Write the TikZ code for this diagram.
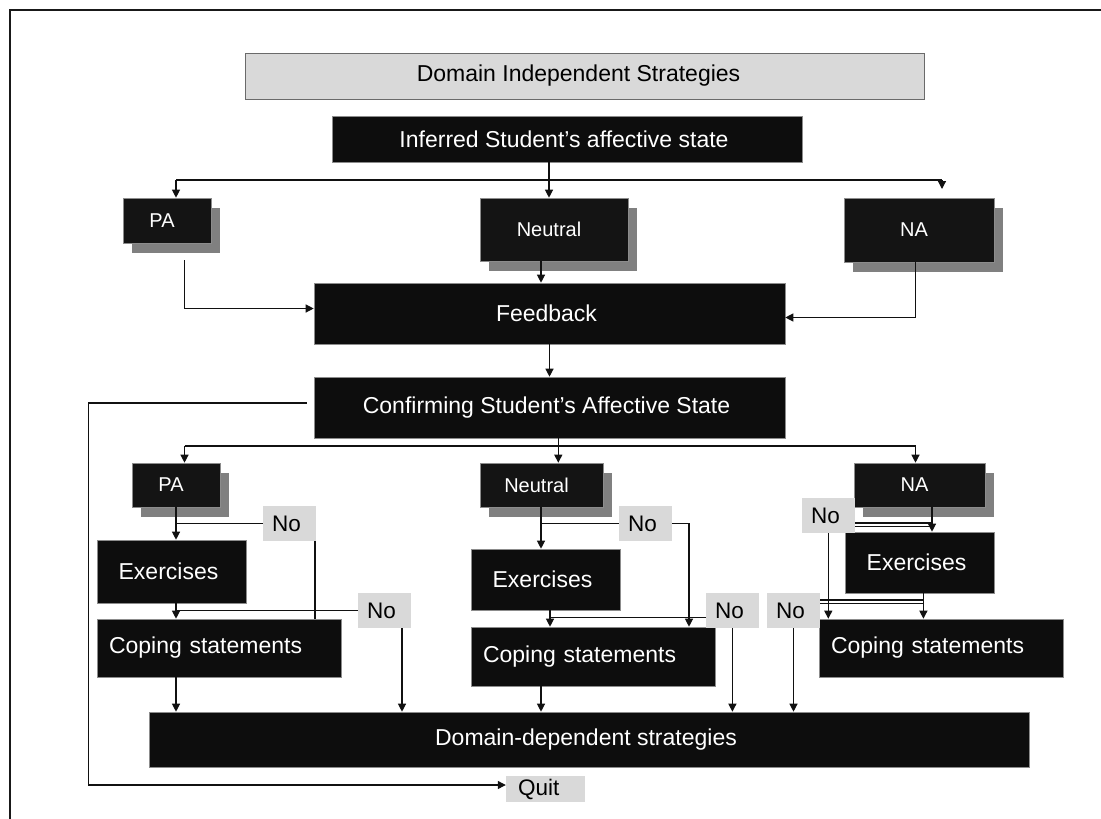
\documentclass[tikz,border=0pt]{standalone}
\usepackage{fontspec}
\setmainfont{Liberation Sans}
\usetikzlibrary{arrows.meta,shadows}

\definecolor{boxblack}{HTML}{0D0D0D}
\definecolor{stateblack}{HTML}{141414}
\definecolor{shadowgray}{HTML}{808080}
\definecolor{tagfill}{HTML}{D9D9D9}
\definecolor{titleedge}{HTML}{6A6A6A}
\definecolor{linkcol}{HTML}{111111}

\tikzset{
  base/.style={rectangle, inner sep=0pt, line width=0.6pt, draw=black!45},
  darkbox/.style={base, fill=boxblack, text=white, font=\fontsize{23}{27}\selectfont,
    execute at begin node={\hspace*{-6pt}}},
  leftbox/.style={base, fill=boxblack, text=white, font=\fontsize{23}{27}\selectfont,
    text width=220pt, inner xsep=12pt, align=left},
  statebox/.style={base, fill=stateblack, text=white, font=\fontsize{20}{24}\selectfont,
    execute at begin node={\hspace*{-10pt}},
    general shadow={fill=shadowgray, shadow xshift=9pt, shadow yshift=-9.5pt}},
  titlebox/.style={rectangle, inner sep=0pt, fill=tagfill, draw=titleedge, line width=1pt,
    font=\fontsize{23}{27}\selectfont, execute at begin node={\hspace*{-12pt}}},
  tag/.style={rectangle, inner sep=0pt, fill=tagfill, font=\fontsize{22.5}{26}\selectfont,
    execute at begin node={\hspace*{-6pt}}},
  quitbox/.style={rectangle, inner sep=0pt, fill=tagfill, font=\fontsize{22.5}{26}\selectfont,
    text width=55pt, inner xsep=12pt, align=left},
  link/.style={line width=1.2pt, draw=linkcol},
  arr/.style={link, -{Triangle[length=8pt,width=8pt]}},
}

% box given by its left, top, right and bottom edges
\newcommand{\boxnode}[7]{%
  \node[#6, minimum width={#4-#2}, minimum height={#5-#3}] (#1)
    at ({(#2+#4)/2},{(#3+#5)/2}) {#7};}

\begin{document}
\begin{tikzpicture}[x=1pt, y=-1pt]
\useasboundingbox (0,0) rectangle (1101,819);

% frame
\draw[line width=2pt, draw=black!90] (9.5,819) -- (9.5,9.5) -- (1101,9.5);

% boxes
\boxnode{dis}{245}{53}{924}{99}{titlebox}{Domain Independent Strategies}
\boxnode{inf}{332}{116}{802}{162}{darkbox}{Inferred Student’s affective state}
\boxnode{pa1}{123}{198}{211}{243}{statebox}{PA}
\boxnode{neu1}{480}{198}{628}{261}{statebox}{Neutral}
\boxnode{na1}{844}{198}{994}{262}{statebox}{NA}
\boxnode{fb}{314}{283}{785}{344}{darkbox}{Feedback}
\boxnode{conf}{314}{377}{785}{438}{darkbox}{Confirming Student’s Affective State}
\boxnode{pa2}{132}{463}{220}{507}{statebox}{PA}
\boxnode{neu2}{480}{463}{603}{507}{statebox}{Neutral}
\boxnode{na2}{854}{463}{985}{507}{statebox}{NA}
\boxnode{ex1}{97}{540}{246}{603}{darkbox}{Exercises}
\boxnode{cop1}{97}{619}{341}{677}{leftbox}{Coping statements}
\boxnode{ex2}{471}{549}{620}{610}{darkbox}{Exercises}
\boxnode{cop2}{471}{627}{715}{686}{leftbox}{Coping statements}
\boxnode{ex3}{845}{532}{994}{593}{darkbox}{Exercises}
\boxnode{cop3}{819}{619}{1063}{677}{leftbox}{Coping statements}
\boxnode{dd}{149}{712}{1029}{767}{darkbox}{Domain-dependent strategies}
\boxnode{quit}{506}{776}{585}{802}{quitbox}{Quit}
\boxnode{no1}{263}{506}{316}{541}{tag}{No}
\boxnode{no2}{358}{593}{411}{628}{tag}{No}
\boxnode{no3}{619}{506}{672}{541}{tag}{No}
\boxnode{no4}{706}{593}{759}{628}{tag}{No}
\boxnode{no5}{767}{593}{820}{628}{tag}{No}
\boxnode{no6}{802}{498}{855}{533}{tag}{No}

% junctions and vertical tracks
\coordinate (b1a) at (176,180);
\coordinate (b1b) at (549,180);
\coordinate (b1c) at (942,180);
\coordinate (b1e) at (942,189);
\coordinate (pfa) at (184.5,260);
\coordinate (xn)  at (541,0);
\coordinate (xna) at (915.5,0);
\coordinate (b2a) at (184.5,446);
\coordinate (b2b) at (558.3,446);
\coordinate (b2c) at (915.5,446);
\coordinate (q1)  at (306.5,403);
\coordinate (q2)  at (88.5,403);
\coordinate (xp)  at (176,0);
\coordinate (xn1) at (315,0);
\coordinate (xn2) at (402,0);
\coordinate (xm2) at (550,0);
\coordinate (xn3) at (689,0);
\coordinate (yn4) at (0,617.7);
\coordinate (xn4) at (732.4,0);
\coordinate (xa)  at (932,0);
\coordinate (xa2) at (923.4,0);
\coordinate (ya1) at (0,523);
\coordinate (ya2) at (0,526.5);
\coordinate (xn6) at (828.3,0);
\coordinate (yb1) at (0,600);
\coordinate (yb2) at (0,603.5);
\coordinate (xn5) at (793.5,0);

% inferred state to the three states
\draw[link] (inf.south -| b1b) -- (b1b);
\draw[link] (b1a) -- (b1c);
\draw[arr] (b1a) -- (pa1.north -| b1a);
\draw[arr] (b1b) -- (neu1.north -| b1b);
\draw[arr] (b1c) -- (b1e);

% states to feedback
\draw[arr] (pfa) |- ([yshift=5pt]fb.west);
\draw[arr] (neu1.south -| xn) -- (fb.north -| xn);
\draw[arr] (na1.south -| xna) |- ([yshift=-4pt]fb.east);
\draw[arr] (fb.south) -- (conf.north);

% confirmation to the three states
\draw[link] (conf.south -| b2b) -- (b2b);
\draw[link] (b2a) -- (b2c);
\draw[arr] (b2a) -- (pa2.north -| b2a);
\draw[arr] (b2b) -- (neu2.north -| b2b);
\draw[arr] (b2c) -- (na2.north -| b2c);

% quit
\draw[arr] (q1) -- (q2) |- ([yshift=4pt]quit.west);

% PA column
\draw[arr] (pa2.south -| xp) -- (ex1.north -| xp);
\draw[link] (xp |- no1.west) -- (no1.west);
\draw[link] (no1.south -| xn1) -- (cop1.north -| xn1);
\draw[arr] (ex1.south -| xp) -- (cop1.north -| xp);
\draw[link] (xp |- no2.west) -- (no2.west);
\draw[arr] (no2.south -| xn2) -- (dd.north -| xn2);
\draw[arr] (cop1.south -| xp) -- (dd.north -| xp);

% Neutral column
\draw[arr] (neu2.south -| xn) -- (ex2.north -| xn);
\draw[link] (xn |- no3.west) -- (no3.west);
\draw[arr] (no3.east) -| (cop2.north -| xn3);
\draw[arr] (ex2.south -| xm2) -- (cop2.north -| xm2);
\draw[link] (xm2 |- yn4) -- (no4.west |- yn4);
\draw[arr] (no4.south -| xn4) -- (dd.north -| xn4);
\draw[arr] (cop2.south -| xn) -- (dd.north -| xn);

% NA column
\draw[arr] (na2.south -| xa) -- (ex3.north -| xa);
\draw[link] (no6.east |- ya1) -- (xa |- ya1);
\draw[link] (no6.east |- ya2) -- (xa |- ya2);
\draw[arr] (no6.south -| xn6) -- (cop3.north -| xn6);
\draw[arr] (ex3.south -| xa2) -- (cop3.north -| xa2);
\draw[link] (no5.east |- yb1) -- (xa2 |- yb1);
\draw[link] (no5.east |- yb2) -- (xa2 |- yb2);
\draw[arr] (no5.south -| xn5) -- (dd.north -| xn5);
\end{tikzpicture}
\end{document}
